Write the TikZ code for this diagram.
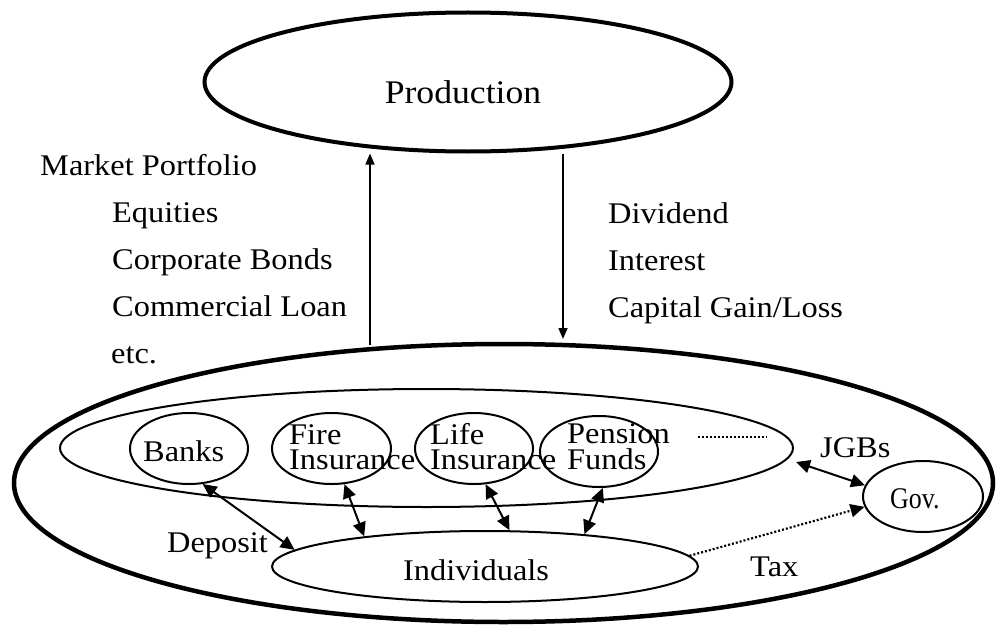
\documentclass[tikz,border=0pt]{standalone}
\usepackage{fontspec}
\setmainfont{Liberation Serif}[FakeStretch=1.08]
\usetikzlibrary{shapes.geometric,arrows.meta,calc}
\begin{document}
\begin{tikzpicture}[x=1pt,y=-1pt,
  ell/.style={draw, ellipse, inner sep=0pt, line width=2pt},
  lbl/.style={anchor=base west, inner sep=0pt, font=\fontsize{30}{30}\selectfont},
  topline/.style={lbl, text depth=0pt},
  botline/.style={lbl, text height=21pt},
  dbl/.style={line width=2pt, {Triangle[length=14pt,width=13pt]}-{Triangle[length=14pt,width=13pt]}},
  vert/.style={line width=1.5pt, -{Triangle[length=11pt,width=9pt]}},
  dotline/.style={line width=2.2pt, dash pattern=on 2pt off 2pt}]
\useasboundingbox (0,0) rectangle (996,626);
% ellipses
\node[ell, line width=4pt, minimum width=527pt, minimum height=139pt] (prod) at (468,82) {};
\node[ell, line width=4.5pt, minimum width=979pt, minimum height=278pt] (outer) at (503.5,483) {};
\node[ell, minimum width=733pt, minimum height=118pt] (inst) at (426.5,448) {};
\node[ell, minimum width=118pt, minimum height=71pt] (banks) at (189,448.5) {};
\node[ell, minimum width=119pt, minimum height=71pt] (fire) at (331.5,448.5) {};
\node[ell, minimum width=118pt, minimum height=71pt] (life) at (474,448.5) {};
\node[ell, minimum width=118pt, minimum height=71pt] (pension) at (599,451.5) {};
\node[ell, minimum width=120pt, minimum height=71pt] (gov) at (923,496.5) {};
\node[ell, minimum width=426pt, minimum height=71pt] (indiv) at (485,566.5) {};
% texts
\node[inner sep=0pt, anchor=base, font=\fontsize{33}{33}\selectfont] (tprod) at (463,103) {Production};
\node[lbl] (tmp) at (40,175) {Market Portfolio};
\node[lbl] (teq) at (112,222) {Equities};
\node[lbl] (tcb) at (112,269) {Corporate Bonds};
\node[lbl] (tcl) at (112,316) {Commercial Loan};
\node[lbl] (tetc) at (111,363) {etc.};
\node[lbl] (tdiv) at (608,223) {Dividend};
\node[lbl] (tint) at (608,270) {Interest};
\node[lbl] (tcap) at (608,317) {Capital Gain/Loss};
\node[lbl] (tbanks) at (143,461) {Banks};
\node[topline] (tfire1) at (289,444) {Fire};
\node[botline] (tfire2) at (289,469) {Insurance};
\node[topline] (tlife1) at (430,444) {Life};
\node[botline] (tlife2) at (430,469) {Insurance};
\node[topline] (tpen1) at (567,443) {Pension};
\node[botline] (tpen2) at (567,469) {Funds};
\node[lbl] (tjgb) at (820,457) {JGBs};
\node[lbl] (tgov) at (890,508) {\scalebox{0.8}[1]{Gov.}};
\node[lbl] (ttax) at (750,576) {Tax};
\node[lbl] (tind) at (403,580) {Individuals};
\node[lbl] (tdep) at (167,552) {Deposit};
% dotted "..." line
\draw[dotline] (698,437) -- (767,437);
% vertical arrows
\coordinate (upA) at (370,345);
\coordinate (dnB) at (563,339);
\draw[vert] (upA) -- (upA |- prod.south);
\draw[vert] (dnB |- prod.south) -- (dnB);
% double arrows
\draw[dbl] (banks.-69) -- (indiv.175);
\draw[dbl] (fire.-70) -- (indiv.166);
\draw[dbl] (life.-72) -- (indiv.56);
\draw[dbl] (pension.-84) -- (indiv.18.5);
\draw[dbl] ($(inst.east)+(2,14)$) -- (gov.169);
\draw[dotline, -{Triangle[length=14pt,width=13pt]}] (indiv.3) -- (gov.190);
\end{tikzpicture}
\end{document}
